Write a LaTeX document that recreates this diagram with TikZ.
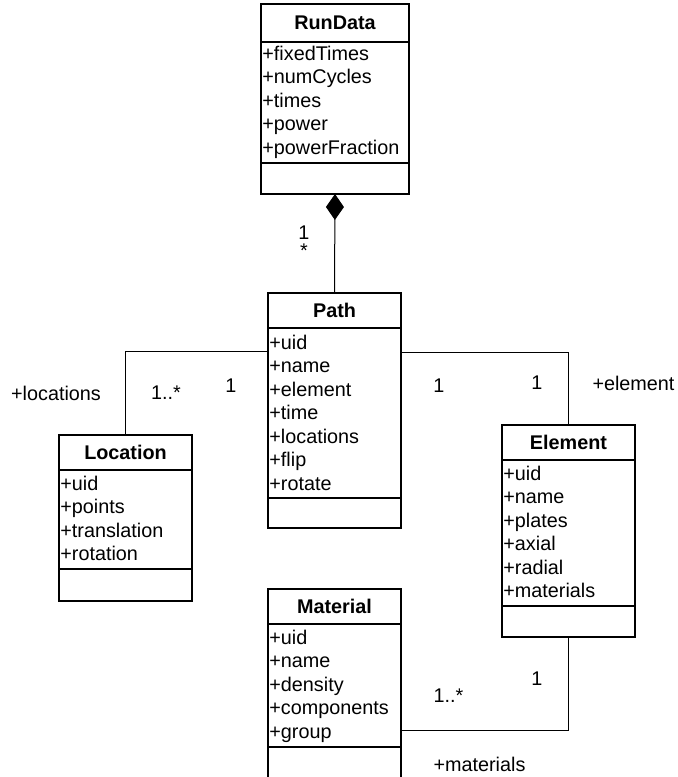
\documentclass[tikz,border=0pt]{standalone}
\usepackage{fontspec}
\setmainfont{Liberation Sans}
\usetikzlibrary{arrows.meta}
\begin{document}
\begin{tikzpicture}[x=0.5pt,y=-0.5pt,
  font=\fontsize{9.9pt}{11.75pt}\selectfont,
  cls/.style={draw, line width=1pt, inner sep=0pt, outer sep=0pt},
  sepline/.style={line width=1pt},
  title/.style={inner sep=0pt, font=\fontsize{9.9pt}{11.75pt}\selectfont\bfseries},
  attr/.style={inner sep=0pt, anchor=base west},
  conn/.style={line width=0.5pt},
  lbl/.style={inner sep=0pt}]
\useasboundingbox (0,0) rectangle (678,777);
\clip (0,0) rectangle (678,777);

% RunData
\node[cls, minimum width=74pt, minimum height=95pt] (run) at (335,99) {};
\draw[sepline] (261,42) -- (409,42);
\draw[sepline] (261,163) -- (409,163);
\node[title] (runT) at (335,23) {RunData};
\node[attr] (r1) at (262,60) {+fixedTimes};
\node[attr] (r2) at (262,83.6) {+numCycles};
\node[attr] (r3) at (262,107.2) {+times};
\node[attr] (r4) at (262,130.8) {+power};
\node[attr] (r5) at (262,154.4) {+powerFraction};

% Path
\node[cls, minimum width=66.5pt, minimum height=117.5pt] (path) at (334.5,410.5) {};
\draw[sepline] (268,328) -- (401,328);
\draw[sepline] (268,498) -- (401,498);
\node[title] (pathT) at (334.5,310.5) {Path};
\node[attr] (p1) at (269,349) {+uid};
\node[attr] (p2) at (269,372.5) {+name};
\node[attr] (p3) at (269,396) {+element};
\node[attr] (p4) at (269,419.5) {+time};
\node[attr] (p5) at (269,443) {+locations};
\node[attr] (p6) at (269,466.5) {+flip};
\node[attr] (p7) at (269,490) {+rotate};

% Location
\node[cls, minimum width=66.5pt, minimum height=83pt] (loc) at (125.5,518) {};
\draw[sepline] (59,470) -- (192,470);
\draw[sepline] (59,569) -- (192,569);
\node[title] (locT) at (125.5,452.5) {Location};
\node[attr] (l1) at (60,490) {+uid};
\node[attr] (l2) at (60,513.5) {+points};
\node[attr] (l3) at (60,537) {+translation};
\node[attr] (l4) at (60,560.5) {+rotation};

% Element
\node[cls, minimum width=66.5pt, minimum height=106pt] (elem) at (568.5,531) {};
\draw[sepline] (502,460) -- (635,460);
\draw[sepline] (502,606) -- (635,606);
\node[title] (elemT) at (568.5,442.5) {Element};
\node[attr] (e1) at (503,480) {+uid};
\node[attr] (e2) at (503,503.5) {+name};
\node[attr] (e3) at (503,527) {+plates};
\node[attr] (e4) at (503,550.5) {+axial};
\node[attr] (e5) at (503,574) {+radial};
\node[attr] (e6) at (503,597.5) {+materials};

% Material
\node[cls, minimum width=66.5pt, minimum height=98pt] (mat) at (334.5,687) {};
\draw[sepline] (268,624) -- (401,624);
\draw[sepline] (268,747) -- (401,747);
\node[title] (matT) at (334.5,606.5) {Material};
\node[attr] (m1) at (269,644) {+uid};
\node[attr] (m2) at (269,667.5) {+name};
\node[attr] (m3) at (269,691) {+density};
\node[attr] (m4) at (269,714.5) {+components};
\node[attr] (m5) at (269,738) {+group};

% connectors
\draw[conn, {Diamond[length=13pt, width=9pt, fill=black]}-] (run.south) -- (path.north);
\coordinate (pL) at (268,351);
\coordinate (pR) at (401,352);
\coordinate (mR) at (401,730);
\draw[conn] (pL) -| (loc.north);
\draw[conn] (pR) -| (elem.north);
\draw[conn] (elem.south) |- (mR);

% labels
\node[lbl] (a1) at (304,233) {1};
\node[lbl] (a2) at (304,251) {*};
\node[lbl] (b1) at (56,393) {+locations};
\node[lbl] (b2) at (166,393) {1..*};
\node[lbl] (b3) at (231,386) {1};
\node[lbl] (c1) at (439,386) {1};
\node[lbl] (c2) at (537,383) {1};
\node[lbl] (c3) at (633.5,383) {+element};
\node[lbl] (d1) at (537,679) {1};
\node[lbl] (d2) at (448.5,696) {1..*};
\node[lbl] (d3) at (479.5,764) {+materials};
\end{tikzpicture}
\end{document}
